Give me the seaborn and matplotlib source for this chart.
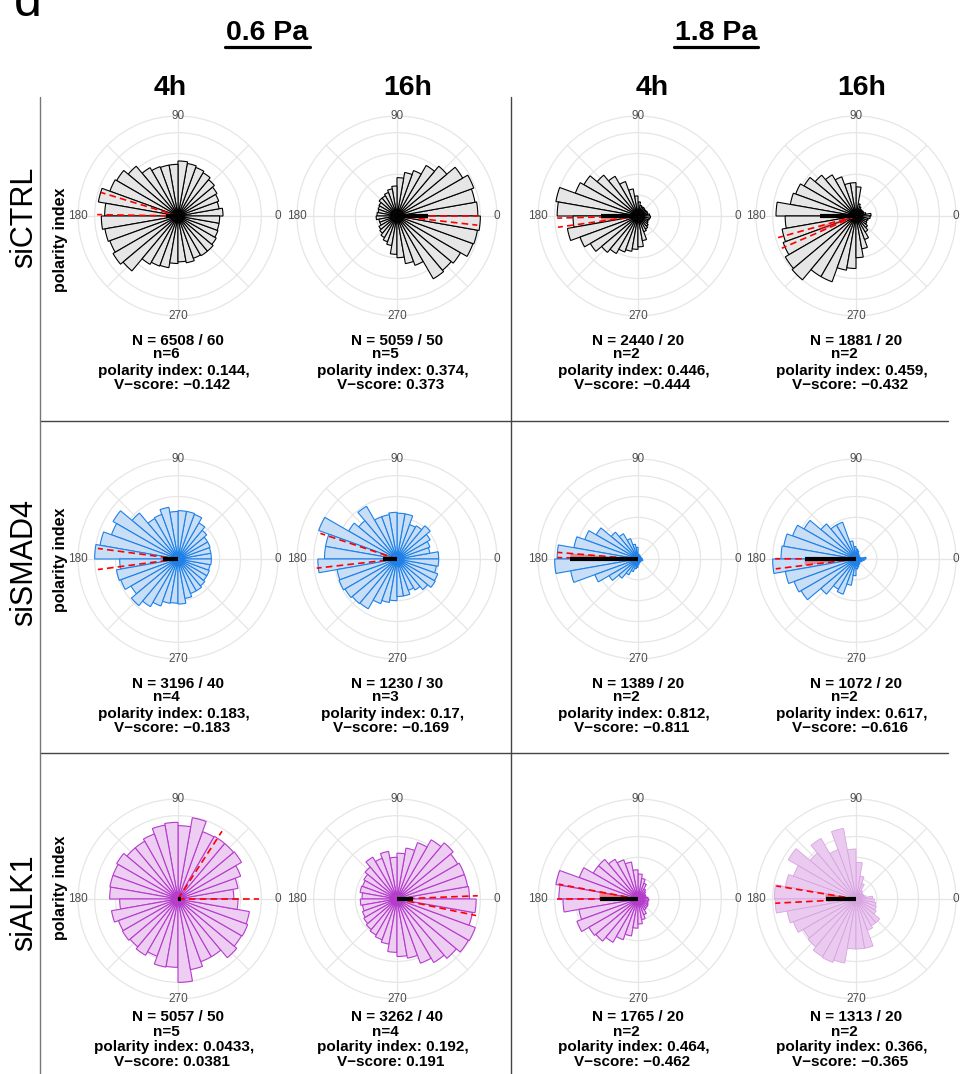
import numpy as np
import pandas as pd
import matplotlib
matplotlib.use("Agg")
import matplotlib.pyplot as plt
from matplotlib.lines import Line2D
from matplotlib import font_manager
import seaborn as sns

sns.set_theme(style="white")
plt.rcParams["font.family"] = ["Liberation Sans", "DejaVu Sans"]
plt.rcParams["text.color"] = "black"

# ---------------------------------------------------------------- data
shear_labels = ["0.6 Pa", "1.8 Pa"]
time_labels = ["4h", "16h", "4h", "16h"]
condition_labels = ["siCTRL", "siSMAD4", "siALK1"]
axis_angles = [0, 90, 180, 270]

# relative frequency per 10° bin (0-10°, 10-20°, ..., 350-360°), largest bin = 1
ctrl_06_4h = [0.54, 0.50, 0.52, 0.54, 0.57, 0.60, 0.62, 0.64, 0.66, 0.62, 0.62, 0.63,
              0.67, 0.78, 0.85, 0.87, 0.97, 0.88, 0.92, 0.89, 0.87, 0.90, 0.86, 0.67,
              0.64, 0.63, 0.57, 0.55, 0.57, 0.54, 0.55, 0.55, 0.53, 0.51, 0.50, 0.50]
ctrl_06_16h = [0.97, 0.95, 0.98, 0.91, 0.78, 0.70, 0.58, 0.53, 0.46, 0.36, 0.33, 0.30,
               0.28, 0.28, 0.25, 0.24, 0.23, 0.24, 0.25, 0.22, 0.22, 0.25, 0.27, 0.30,
               0.33, 0.36, 0.46, 0.50, 0.58, 0.63, 0.87, 0.85, 0.88, 0.97, 0.98, 1.00]
ctrl_18_4h = [0.14, 0.12, 0.12, 0.11, 0.11, 0.12, 0.12, 0.13, 0.17, 0.24, 0.33, 0.44,
              0.55, 0.64, 0.75, 0.80, 1.00, 0.97, 0.78, 0.86, 0.74, 0.66, 0.57, 0.52,
              0.46, 0.43, 0.40, 0.37, 0.30, 0.20, 0.18, 0.16, 0.14, 0.13, 0.14, 0.15]
ctrl_18_16h = [0.18, 0.12, 0.10, 0.10, 0.09, 0.10, 0.12, 0.15, 0.35, 0.40, 0.40, 0.50,
               0.57, 0.64, 0.72, 0.77, 0.80, 0.96, 0.85, 0.90, 0.93, 0.98, 1.00, 0.84,
               0.84, 0.66, 0.63, 0.50, 0.40, 0.30, 0.22, 0.18, 0.15, 0.14, 0.15, 0.17]
smad4_06_4h = [0.40, 0.40, 0.41, 0.41, 0.45, 0.50, 0.57, 0.58, 0.58, 0.57, 0.63, 0.57,
               0.56, 0.72, 0.90, 0.85, 0.95, 1.00, 0.70, 0.75, 0.73, 0.65, 0.73, 0.66,
               0.60, 0.54, 0.53, 0.54, 0.48, 0.44, 0.44, 0.42, 0.40, 0.40, 0.39, 0.40]
smad4_06_16h = [0.50, 0.40, 0.42, 0.46, 0.52, 0.46, 0.44, 0.55, 0.55, 0.56, 0.54, 0.54,
                0.73, 0.60, 0.67, 1.00, 0.87, 0.87, 0.95, 0.73, 0.74, 0.72, 0.70, 0.69,
                0.57, 0.53, 0.50, 0.45, 0.45, 0.40, 0.43, 0.48, 0.53, 0.52, 0.48, 0.50]
smad4_18_4h = [0.05, 0.04, 0.04, 0.04, 0.04, 0.04, 0.05, 0.05, 0.06, 0.14, 0.18, 0.26,
               0.35, 0.42, 0.58, 0.68, 0.78, 0.97, 1.00, 0.82, 0.55, 0.40, 0.30, 0.22,
               0.16, 0.12, 0.10, 0.07, 0.05, 0.05, 0.04, 0.04, 0.04, 0.05, 0.06, 0.05]
smad4_18_16h = [0.12, 0.06, 0.05, 0.05, 0.05, 0.06, 0.07, 0.10, 0.12, 0.15, 0.22, 0.47,
                0.47, 0.55, 0.72, 0.81, 0.88, 0.90, 1.00, 0.86, 0.79, 0.76, 0.55, 0.42,
                0.45, 0.32, 0.20, 0.12, 0.10, 0.08, 0.07, 0.06, 0.06, 0.07, 0.08, 0.10]
alk1_06_4h = [0.67, 0.73, 0.80, 0.88, 0.87, 0.87, 0.86, 0.99, 0.88, 0.92, 0.90, 0.83,
              0.80, 0.80, 0.85, 0.83, 0.83, 0.82, 0.70, 0.81, 0.76, 0.77, 0.75, 0.78,
              0.73, 0.83, 0.82, 1.00, 0.86, 0.80, 0.80, 0.92, 0.88, 0.89, 0.87, 0.72]
alk1_06_16h = [0.87, 0.86, 0.86, 0.84, 0.88, 0.82, 0.72, 0.62, 0.55, 0.50, 0.58, 0.52,
               0.58, 0.50, 0.46, 0.44, 0.45, 0.42, 0.44, 0.42, 0.44, 0.46, 0.48, 0.50,
               0.52, 0.55, 0.64, 0.69, 0.72, 0.82, 0.88, 0.93, 0.99, 1.00, 0.92, 0.95]
alk1_18_4h = [0.12, 0.10, 0.10, 0.10, 0.12, 0.14, 0.20, 0.25, 0.30, 0.35, 0.45, 0.50,
              0.55, 0.62, 0.62, 0.75, 1.00, 0.95, 0.90, 0.72, 0.78, 0.68, 0.66, 0.60,
              0.52, 0.45, 0.35, 0.30, 0.25, 0.20, 0.15, 0.14, 0.14, 0.13, 0.12, 0.13]
alk1_18_16h = [0.20, 0.12, 0.10, 0.10, 0.10, 0.12, 0.20, 0.28, 0.44, 0.60, 0.86, 0.63,
               0.84, 0.72, 0.94, 0.80, 0.86, 0.98, 0.97, 0.84, 0.80, 0.73, 0.75, 0.80,
               0.81, 0.78, 0.60, 0.60, 0.60, 0.40, 0.37, 0.37, 0.28, 0.26, 0.24, 0.22]

panel_freqs = [ctrl_06_4h, ctrl_06_16h, ctrl_18_4h, ctrl_18_16h,
               smad4_06_4h, smad4_06_16h, smad4_18_4h, smad4_18_16h,
               alk1_06_4h, alk1_06_16h, alk1_18_4h, alk1_18_16h]

n_cells = [6508, 5059, 2440, 1881, 3196, 1230, 1389, 1072, 5057, 3262, 1765, 1313]
n_fields = [60, 50, 20, 20, 40, 30, 20, 20, 50, 40, 20, 20]
n_repl = [6, 5, 2, 2, 4, 3, 2, 2, 5, 4, 2, 2]
polarity_index = [0.144, 0.374, 0.446, 0.459, 0.183, 0.17, 0.812, 0.617,
                  0.0433, 0.192, 0.464, 0.366]
v_score = [-0.142, 0.373, -0.444, -0.432, -0.183, -0.169, -0.811, -0.616,
           0.0381, 0.191, -0.462, -0.365]
# confidence interval of the mean direction (degrees)
ci_lower = [163.0, 353.5, 181.5, 195.5, 172.5, 161.5, 175.3, 179.8, 0.0, 348.2, 169.4, 170.7]
ci_upper = [179.0, 360.0, 188.0, 203.5, 187.5, 186.5, 179.0, 187.0, 57.0, 362.3, 180.0, 183.0]

# ---------------------------------------------------------------- style
face_colors = {"siCTRL": "#E6E6E6", "siSMAD4": "#C8DEF7", "siALK1": "#EECDF3"}
edge_colors = {"siCTRL": "#000000", "siSMAD4": "#1E80E6", "siALK1": "#B43CCB"}
GRID = "#E6E6E6"
LABEL_GREY = "#4D4D4D"

# condensed bold face for the column headers when available
_installed = {f.name for f in font_manager.fontManager.ttflist}
if "Liberation Sans Narrow" in _installed:
    HEAD_FAMILY, HEAD_SIZE = ["Liberation Sans Narrow", "DejaVu Sans"], 23
else:
    HEAD_FAMILY, HEAD_SIZE = ["Liberation Sans", "DejaVu Sans"], 20.5

W, H = 960, 1074
fig = plt.figure(figsize=(W / 100, H / 100), dpi=100)


def fx(px):
    return px / W


def fy(py):
    return 1 - py / H


col_cx = [178, 397, 638, 856]
row_cy = [216, 559, 899]
R_PX = 100          # pixel radius of the outer (label) circle
R_MAX = 1.2         # data radius of the outer circle
text_dy = [[125, 138, 155, 169], [125, 138, 155, 169], [118, 133, 148, 163]]
text_dx = [0, -12, -4, -6]

n_bins = 36
bin_centres = np.deg2rad(np.arange(n_bins) * 360 / n_bins + 180 / n_bins)


def fmt(v):
    return f"{v:g}".replace("-", "\u2212")


for i, freqs in enumerate(panel_freqs):
    r, c = divmod(i, 4)
    cond = condition_labels[r]
    cx, cy = col_cx[c], row_cy[r]
    ax = fig.add_axes([fx(cx - R_PX), fy(cy + R_PX), 2 * R_PX / W, 2 * R_PX / H],
                      projection="polar")
    ax.set_facecolor("none")
    ax.set_axisbelow(True)

    fc, ec, lw = face_colors[cond], edge_colors[cond], 0.8
    if i == 11:
        fc, ec, lw = "#EBCAF0", "#D7A3E0", 0.6

    df = pd.DataFrame({"angle": bin_centres, "freq": freqs})
    sns.histplot(data=df, x="angle", weights="freq", bins=n_bins,
                 binrange=(0, 2 * np.pi), ax=ax, facecolor=fc, edgecolor=ec,
                 linewidth=lw, zorder=2)

    ax.set_xlim(0, 2 * np.pi)
    ax.set_ylim(0, R_MAX)
    ax.set_xlabel("")
    ax.set_ylabel("")
    ax.set_xticks(np.deg2rad(np.arange(0, 360, 45)))
    ax.set_xticklabels([])
    ax.set_yticks([0.25, 0.5, 0.75, 1.0])
    ax.set_yticklabels([])
    ax.tick_params(length=0, pad=0)
    ax.grid(True, color=GRID, linewidth=0.9)
    ax.spines["polar"].set_edgecolor(GRID)
    ax.spines["polar"].set_linewidth(0.9)

    for a in axis_angles:
        ax.text(np.deg2rad(a), R_MAX, str(a), ha="center", va="center",
                fontsize=8.5, color=LABEL_GREY, clip_on=False, zorder=6)

    # confidence wedge of the mean direction, length = polarity index
    th = np.deg2rad(np.linspace(ci_lower[i], ci_upper[i], 40))
    ax.fill(np.r_[0, th, 0], np.r_[0, np.full_like(th, polarity_index[i]), 0],
            color="#FF3333", alpha=0.5, linewidth=0, zorder=3)
    for a in (ci_lower[i], ci_upper[i]):
        ax.plot([np.deg2rad(a)] * 2, [0, 0.97], color="#FF0000", linewidth=1.2,
                linestyle=(0, (4, 2.5)), zorder=4)
    # V-score projected on the flow axis
    v_ang = 0.0 if v_score[i] >= 0 else np.pi
    ax.plot([v_ang, v_ang], [0, abs(v_score[i])], color="black", linewidth=3,
            solid_capstyle="butt", zorder=5)

    lines = [f"N = {n_cells[i]} / {n_fields[i]}", f"n={n_repl[i]}",
             f"polarity index: {fmt(polarity_index[i])},",
             f"V\u2212score: {fmt(v_score[i])}"]
    for txt, dy, dx in zip(lines, text_dy[r], text_dx):
        fig.text(fx(cx + dx), fy(cy + dy), txt, ha="center", va="center",
                 fontsize=11, fontweight="bold", color="black")

# ---------------------------------------------------------------- headers
for label, x, (u0, u1) in zip(shear_labels, [267, 716], [(225, 310), (674, 758)]):
    fig.text(fx(x), fy(33), label, ha="center", va="center", fontsize=HEAD_SIZE,
             fontweight="bold", family=HEAD_FAMILY, color="black")
    fig.add_artist(Line2D([fx(u0), fx(u1)], [fy(47), fy(47)], color="black",
                          linewidth=2.3))
for label, x in zip(time_labels, [170, 408, 652, 862]):
    fig.text(fx(x), fy(88), label, ha="center", va="center", fontsize=HEAD_SIZE,
             fontweight="bold", family=HEAD_FAMILY, color="black")

for label, y in zip(condition_labels, [217, 562, 903]):
    fig.text(fx(24), fy(y), label, rotation=90, ha="center", va="center",
             fontsize=22, color="black")
for y in [240, 560, 888]:
    fig.text(fx(60), fy(y), "polarity index", rotation=90, ha="center",
             va="center", fontsize=11.5, fontweight="bold", color="black")

fig.text(fx(14), fy(16), "d", ha="left", va="baseline", fontsize=36, color="black")

# ---------------------------------------------------------------- dividers
for y in [421, 753]:
    fig.add_artist(Line2D([fx(40), fx(948)], [fy(y), fy(y)], color="#444444",
                          linewidth=1.0))
fig.add_artist(Line2D([fx(40), fx(40)], [fy(97), fy(1074)], color="#777777",
                      linewidth=1.0))
fig.add_artist(Line2D([fx(511), fx(511)], [fy(97), fy(1074)], color="#444444",
                      linewidth=1.0))

fig.savefig("out.png", dpi=100, facecolor="white")
